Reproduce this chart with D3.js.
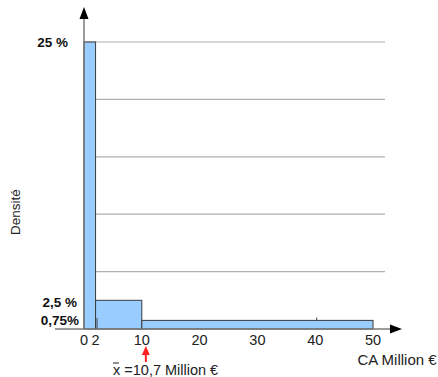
<!DOCTYPE html>
<html><head><meta charset="utf-8">
<script src="https://cdn.jsdelivr.net/npm/d3@7"></script>
<style>html,body{margin:0;padding:0;background:#fff}svg{display:block}text{font-family:"Liberation Sans",Arial,sans-serif}</style>
</head><body>
<script>
const binStarts = [0, 2, 10];
const binEnds = [2, 10, 50];
const densities = [25, 2.5, 0.75];
const densityLabels = ["25 %", "2,5 %", "0,75%"];
const xTicks = [0, 2, 10, 20, 30, 40, 50];
const tickMarks = [2, 40];
const gridValues = [5, 10, 15, 20, 25];
const meanValue = 10.7;
const meanLabel = "=10,7 Million €";

const W = 438, H = 377;
const svg = d3.select("body").append("svg").attr("width", W).attr("height", H);
const x = d3.scaleLinear().domain([0, 50]).range([84, 373]);
const y = d3.scaleLinear().domain([0, 25]).range([329, 42]);

// gridlines
svg.append("g").selectAll("line").data(gridValues).join("line")
  .attr("x1", x(0)).attr("x2", 385)
  .attr("y1", d => y(d)).attr("y2", d => y(d))
  .attr("stroke", "#b0b0b0").attr("stroke-width", 1.2);

// x tick marks (upward)
svg.append("g").selectAll("line").data(tickMarks).join("line")
  .attr("x1", d => x(d) + 1.5).attr("x2", d => x(d) + 1.5)
  .attr("y1", y(0)).attr("y2", y(0) - 11.5)
  .attr("stroke", "#444").attr("stroke-width", 1);

// bars
const bins = binStarts.map((s, i) => ({s, e: binEnds[i], d: densities[i]}));
svg.append("g").selectAll("rect").data(bins).join("rect")
  .attr("x", d => x(d.s)).attr("y", d => y(d.d))
  .attr("width", d => x(d.e) - x(d.s)).attr("height", d => y(0) - y(d.d))
  .attr("fill", "#99ccff").attr("stroke", "#3a3a3a").attr("stroke-width", 1);
// tick at 2 shows on top of the bar
svg.append("line").attr("x1", x(tickMarks[0]) + 1.5).attr("x2", x(tickMarks[0]) + 1.5)
  .attr("y1", y(0)).attr("y2", y(0) - 11).attr("stroke", "#444").attr("stroke-width", 1);

// axes
svg.append("line").attr("x1", x(0)).attr("x2", x(0)).attr("y1", 16).attr("y2", y(0))
  .attr("stroke", "#7a7a7a").attr("stroke-width", 1.5);
svg.append("path").attr("d", `M${x(0)-4.5},19 L${x(0)},7 L${x(0)+4.5},19 Z`).attr("fill", "#000");
svg.append("line").attr("x1", 55).attr("x2", 392).attr("y1", y(0)).attr("y2", y(0))
  .attr("stroke", "#7a7a7a").attr("stroke-width", 1.5);
svg.append("path").attr("d", `M390,${y(0)-4.5} L402,${y(0)} L390,${y(0)+4.5} Z`).attr("fill", "#000");

// x tick labels
svg.append("g").selectAll("text").data(xTicks).join("text")
  .attr("x", d => x(d)).attr("y", 345).attr("text-anchor", "middle")
  .attr("font-size", 14.5).attr("fill", "#222").text(d => d);

// y labels
const yLabRight = [68, 77, 79];
const yLabBase = [47, 306.5, 325];
svg.append("g").selectAll("text").data(densities).join("text")
  .attr("x", (d, i) => yLabRight[i]).attr("y", (d, i) => yLabBase[i])
  .attr("text-anchor", "end").attr("font-size", 13.5).attr("font-weight", "bold").attr("fill", "#111")
  .text((d, i) => densityLabels[i]);

// axis titles
svg.append("text").attr("x", 397).attr("y", 365).attr("text-anchor", "middle")
  .attr("font-size", 15).attr("fill", "#222").text("CA Million €");
svg.append("text").attr("transform", "translate(20,212) rotate(-90)").attr("text-anchor", "middle")
  .attr("font-size", 13.5).attr("fill", "#222").text("Densité");

// mean arrow
const mx = x(meanValue);
svg.append("line").attr("x1", mx).attr("x2", mx).attr("y1", 354).attr("y2", 362)
  .attr("stroke", "#ff2020").attr("stroke-width", 2);
svg.append("path").attr("d", `M${mx-4},355 L${mx},346 L${mx+4},355 Z`).attr("fill", "#ff2020");

// mean label
svg.append("text").attr("x", 113).attr("y", 375).attr("font-size", 14.5).attr("fill", "#222")
  .text("x ").append("tspan").text(meanLabel);
svg.append("line").attr("x1", 113).attr("x2", 119).attr("y1", 363).attr("y2", 363)
  .attr("stroke", "#222").attr("stroke-width", 1);
</script>
</body></html>
